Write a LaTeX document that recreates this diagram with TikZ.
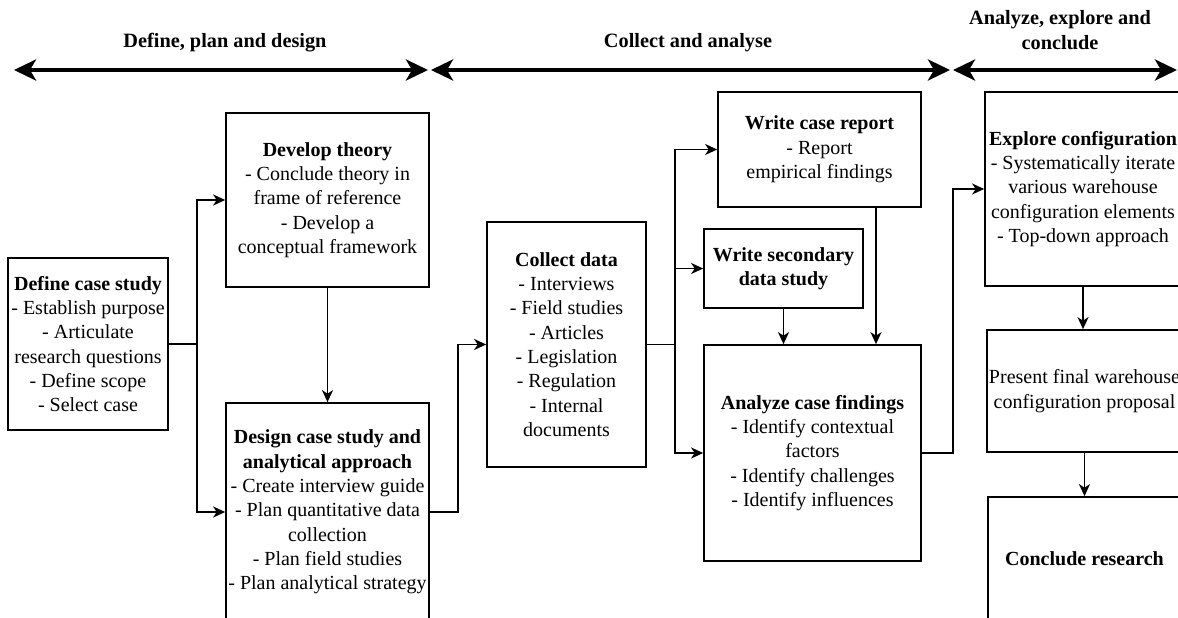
\documentclass[tikz,border=0pt]{standalone}
\usepackage{fontspec}
\setmainfont{Liberation Serif}
\usetikzlibrary{arrows.meta,calc}
\newcommand\bxfont{\fontsize{20pt}{24.3pt}\selectfont}
\newcommand\hdfont{\fontsize{20.3pt}{25pt}\selectfont\bfseries}
\begin{document}
\begin{tikzpicture}[x=1pt,y=-1pt,
  box/.style={draw, line width=1.7pt, align=center, inner sep=2pt, font=\bxfont},
  conn/.style={line width=1.7pt, -{Stealth[length=12pt,width=11pt,inset=3.5pt]}},
  plain/.style={line width=1.7pt},
  hdr/.style={font=\hdfont, align=center},
  phase/.style={line width=4pt, {Stealth[length=22pt,width=21pt,inset=6pt]}-{Stealth[length=22pt,width=21pt,inset=6pt]}}]
\useasboundingbox (0,0) rectangle (1178,618);
\clip (0,0) rectangle (1178,618);

% phase headers
\node[hdr] (hA) at (225,43) {Define, plan and design};
\node[hdr] (hB) at (688,43) {Collect and analyse};
\node[hdr] (hC) at (1060,30) {Analyze, explore and\\conclude};
\coordinate (p0) at (14,70);
\coordinate (p1) at (428,70);
\coordinate (p2) at (431,70);
\coordinate (p3) at (950,70);
\coordinate (p4) at (953,70);
\coordinate (p5) at (1177,70);
\draw[phase] (p0) -- (p1);
\draw[phase] (p2) -- (p3);
\draw[phase] (p4) -- (p5);

% boxes
\node[box, minimum width=160pt, minimum height=172pt] (def) at (88,344)
  {\textbf{Define case study}\\- Establish purpose\\- Articulate\\research questions\\- Define scope\\- Select case};
\node[box, minimum width=203pt, minimum height=174pt] (theory) at (327.5,200)
  {\textbf{Develop theory}\\- Conclude theory in\\frame of reference\\- Develop a\\conceptual framework};
\node[box, minimum width=203pt, minimum height=218pt] (design) at (327.5,512)
  {\textbf{Design case study and}\\\textbf{analytical approach}\\- Create interview guide\\- Plan quantitative data\\collection\\- Plan field studies\\- Plan analytical strategy};
\node[box, minimum width=159pt, minimum height=245pt] (collect) at (566.5,344.5)
  {\textbf{Collect data}\\- Interviews\\- Field studies\\- Articles\\- Legislation\\- Regulation\\- Internal\\documents};
\node[box, minimum width=203pt, minimum height=115pt] (report) at (819.5,149.5)
  {\textbf{Write case report}\\- Report\\empirical findings};
\node[box, minimum width=159pt, minimum height=79pt] (secondary) at (783.5,268.5)
  {\textbf{Write secondary}\\\textbf{data study}};
\node[box, minimum width=217pt, minimum height=216pt] (analyze) at (812.5,453)
  {\textbf{Analyze case findings}\\- Identify contextual\\factors\\- Identify challenges\\- Identify influences};
\node[box, minimum width=196pt, minimum height=194pt] (explore) at (1083,189)
  {\textbf{Explore configuration}\\- Systematically iterate\\various warehouse\\configuration elements\\- Top-down approach};
\node[box, minimum width=193pt, minimum height=122pt] (present) at (1084.5,391)
  {Present final warehouse\\configuration proposal};
\node[box, minimum width=193pt, minimum height=123pt] (conclude) at (1084.5,558.5)
  {\textbf{Conclude research}};

% connectors
\coordinate (j1) at (197,344);
\draw[plain] (def.east) -- (j1);
\draw[conn] (j1) |- (theory.west);
\draw[conn] (j1) |- (design.west);
\draw[conn] (theory.south) -- (design.north);
\coordinate (j2) at (458,512);
\draw[conn] (design.east) -- (j2) |- (collect.west);
\coordinate (j3) at (675,344.5);
\draw[plain] (collect.east) -- (j3);
\draw[conn] (j3) |- (report.west);
\draw[conn] (j3) |- (secondary.west);
\draw[conn] (j3) |- (analyze.west);
\coordinate (xa) at (876,0);
\draw[conn] (report.south -| xa) -- (analyze.north -| xa);
\draw[conn] (secondary.south) -- (secondary.south |- analyze.north);
\coordinate (j4) at (953,453);
\draw[conn] (analyze.east) -- (j4) |- (explore.west);
\draw[conn] (explore.south) -- (explore.south |- present.north);
\draw[conn] (present.south) -- (conclude.north);
\end{tikzpicture}
\end{document}
